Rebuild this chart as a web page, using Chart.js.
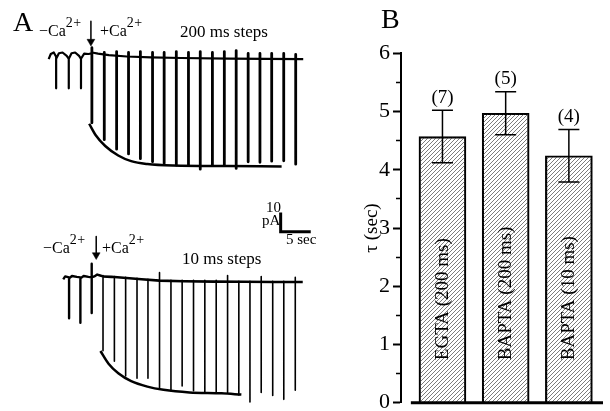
<!DOCTYPE html>
<html><head><meta charset="utf-8">
<script src="https://cdn.jsdelivr.net/npm/chart.js@4.4.0/dist/chart.umd.min.js"></script>
<style>
html,body{margin:0;padding:0;background:#fff;overflow:hidden;width:610px;height:411px;}
#wrap{position:relative;width:610px;height:411px;overflow:hidden;background:#fff;}
canvas{position:absolute;}
.t{position:absolute;font-family:"Liberation Serif","Times New Roman",serif;line-height:1;white-space:nowrap;color:#000;}
.s{position:relative;font-size:14px;top:-9px;letter-spacing:0.5px;}
</style></head>
<body><div id="wrap">
<canvas id="cA1" width="340" height="200" style="left:0;top:0"></canvas>
<canvas id="cA2" width="340" height="211" style="left:0;top:200px"></canvas>
<canvas id="cB" width="252" height="425" style="left:358px;top:0"></canvas>

<div class="t" style="left:13px;top:7.5px;font-size:28px">A</div>
<div class="t" style="left:39px;top:23px;font-size:16px">−Ca<span class="s">2+</span></div>
<div class="t" style="left:100px;top:23px;font-size:16px">+Ca<span class="s">2+</span></div>
<div class="t" style="left:180px;top:22.5px;font-size:17px">200 ms steps</div>

<div class="t" style="left:43px;top:239.6px;font-size:16px">−Ca<span class="s">2+</span></div>
<div class="t" style="left:102px;top:239.6px;font-size:16px">+Ca<span class="s">2+</span></div>
<div class="t" style="left:182px;top:249.8px;font-size:17px">10 ms steps</div>

<div class="t" style="left:266px;top:200.4px;font-size:15px">10</div>
<div class="t" style="left:262px;top:213.4px;font-size:15px">pA</div>
<div class="t" style="left:286px;top:232.4px;font-size:15px">5 sec</div>

<div class="t" style="left:381px;top:4.5px;font-size:28px">B</div>
</div>
<script>
// ---------- Panel A data (time in s, current in pA) ----------
// top trace (EGTA, 200 ms steps)
const topPreT = [0, 0.35, 0.85, 1.24, 1.24, 1.24, 1.7, 2.3, 3.0, 3.34, 3.34, 3.34, 3.8, 4.4, 5.05, 5.37, 5.37, 5.37, 5.9, 6.6, 7.18];
const topPreI = [-0.5, 2.2, 3, 0.8, -15.85, -0.3, 2.6, 3, 1.2, -0.3, -15.85, -0.3, 2.6, 3, 1.2, -0.3, -15.85, -0.3, 2.4, 2.2, 2.5];
const topBaseT = [7.18, 8.2, 10, 13, 17, 22, 30, 42.3];
const topBaseI = [3, 2.4, 1.6, 0.9, 0.4, 0.1, -0.2, -0.5];
const topStepT = [7.18, 9.24, 11.29, 13.27, 15.24, 17.26, 19.19, 21.21, 23.23, 25.19, 27.21, 29.19, 31.16, 33.15, 35.11, 37.06, 39.06, 41.05];
const topStepPeak = [-34, -42.9, -47.9, -50.4, -52.9, -54.5, -55.4, -56.2, -56.5, -58.4, -56.5, -56.5, -58, -54.5, -54.8, -54.2, -54, -55.8];
const topStepOver = [5.5, 3, 3.5, 3, 3.5, 3, 3, 3.5, 3, 3.5, 3, 3.5, 4, 2.5, 2.5, 2.5, 2.5, 2];
const topFitT = [6.73, 7.79, 9.40, 11.56, 13.71, 16.40, 20.69, 29.8, 38.71];
const topFitI = [-34.5, -40.4, -46.2, -51.2, -54.2, -55.7, -56.5, -56.8, -57];
const topArrowT = [7.02, 7.02];
const topArrowI = [19.5, 10];
const topArrowHead = [8.75];

// bottom trace (BAPTA, 10 ms steps)
const botPreT = [0, 0.32, 0.97, 0.97, 0.97, 1.45, 2.26, 2.85, 2.85, 2.85, 3.39, 4.19, 4.73, 4.73, 4.73, 4.73, 5.16, 5.65, 6.13, 6.61];
const botPreI = [0, 1.5, 1, -20.5, 0.5, 1.75, 1.25, 1, -22.85, 0.5, 1.75, 1.25, 1, -17.65, 8.15, 1, 1.5, 2.5, 2, 1.5];
const botBaseT = [6.61, 8, 10, 13, 16, 20, 25, 30, 35, 39.8];
const botBaseI = [1.5, 1.3, 0.8, 0, -0.7, -1, -1.2, -1.3, -1.4, -1.4];
const botStepT = [6.61, 8.50, 10.37, 12.26, 14.08, 16.0, 17.90, 19.76, 21.65, 23.53, 25.42, 27.31, 29.18, 31.03, 32.90, 34.81, 36.65, 38.56];
const botStepPeak = [-37.5, -43, -50.7, -51.9, -51.9, -56.9, -58.5, -56, -58.5, -59.4, -59.4, -59.4, -60.7, -64.4, -59.4, -61, -63, -58.2];
const botStepOver = [2, 1.5, 1, 0.5, 0, 3.5, -0.5, -0.5, -0.5, -0.5, -0.5, 2, -1, -1, 1.5, -1, -1, 1];
const botFitT = [6.18, 7.53, 9.15, 11.29, 13.98, 16.66, 20.97, 26.34, 29.6];
const botFitI = [-37.65, -44.35, -49.35, -53.5, -56.35, -58, -59.35, -59.85, -60.5];
const botArrowT = [5.48, 5.48];
const botArrowI = [22.5, 14];
const botArrowHead = [12.75];
// scale bar: 10 pA, 5 sec
const scaleBarT = [36.13, 36.13, 41.13];
const scaleBarI = [35, 25, 25];

// ---------- Panel B data ----------
const categories = ['EGTA (200 ms)', 'BAPTA (200 ms)', 'BAPTA (10 ms)'];
const tauMean = [4.57, 4.97, 4.24];
const tauSem = [0.45, 0.37, 0.45];
const nLabels = ['(7)', '(5)', '(4)'];
const tauTicks = [0, 1, 2, 3, 4, 5, 6];

Chart.defaults.font.family = '"Liberation Serif", "Times New Roman", serif';
Chart.defaults.color = '#000';

const pts = (T, I) => T.map((t, i) => ({x: t, y: I[i]}));
const segs = (T, top, bot) => T.flatMap((t, i) => [{x: t, y: top[i]}, {x: t, y: bot[i]}, {x: t, y: null}]);

function line(data, w, extra) {
  return Object.assign({type: 'line', data, borderColor: '#000', borderWidth: w, pointRadius: 0, fill: false, spanGaps: false, tension: 0, borderJoinStyle: 'round'}, extra || {});
}
function traceOpts(xmin, xmax, ymin, ymax) {
  return {
    responsive: false, animation: false, events: [],
    layout: {padding: 0},
    plugins: {legend: {display: false}, tooltip: {enabled: false}},
    scales: {
      x: {type: 'linear', min: xmin, max: xmax, display: false, offset: false},
      y: {type: 'linear', min: ymin, max: ymax, display: false}
    }
  };
}
function arrowHead(T, I) {
  return {type: 'line', data: [{x: T[0], y: I[0]}], showLine: false, pointRadius: 4.5, pointStyle: 'triangle', rotation: 180, pointBackgroundColor: '#000', pointBorderColor: '#000', pointBorderWidth: 0.5};
}

new Chart(document.getElementById('cA1'), {
  type: 'line',
  data: {datasets: [
    line(pts(topPreT, topPreI), 2.2),
    line(pts(topBaseT, topBaseI), 2.2),
    line(segs(topStepT, topStepOver, topStepPeak), 2.8),
    line(pts(topFitT, topFitI), 2.5, {cubicInterpolationMode: 'monotone'}),
    line(pts(topArrowT, topArrowI), 1.5),
    arrowHead([topArrowT[0]], topArrowHead)
  ]},
  options: traceOpts(-45 / 6.2, 295 / 6.2, -72, 28)
});

new Chart(document.getElementById('cA2'), {
  type: 'line',
  data: {datasets: [
    line(pts(botPreT, botPreI), 2.4),
    line(pts(botBaseT, botBaseI), 2.6),
    line(segs(botStepT, botStepOver, botStepPeak), 1.6),
    line(pts(botFitT, botFitI), 2.5, {cubicInterpolationMode: 'monotone'}),
    line(pts(botArrowT, botArrowI), 1.5),
    arrowHead([botArrowT[0]], botArrowHead),
    line(pts(scaleBarT, scaleBarI), 3, {borderJoinStyle: 'miter'})
  ]},
  options: traceOpts(-60 / 6.2, 280 / 6.2, -66.5, 39)
});

// ---------- Panel B ----------
const cB = document.getElementById('cB');
const hatch = (() => {
  const c = document.createElement('canvas');
  c.width = 4; c.height = 4;
  const g = c.getContext('2d');
  g.strokeStyle = '#444'; g.lineWidth = 0.7;
  g.beginPath();
  g.moveTo(0, 4); g.lineTo(4, 0);
  g.moveTo(-1, 1); g.lineTo(1, -1);
  g.moveTo(3, 5); g.lineTo(5, 3);
  g.stroke();
  return cB.getContext('2d').createPattern(c, 'repeat');
})();

const annot = {
  id: 'annot',
  afterDatasetsDraw(chart) {
    const {ctx, chartArea} = chart;
    const xs = chart.scales.x, ys = chart.scales.y;
    ctx.save();
    ctx.strokeStyle = '#000'; ctx.fillStyle = '#000';
    tauMean.forEach((m, i) => {
      const px = xs.getPixelForValue(i + 1);
      const hi = ys.getPixelForValue(m + tauSem[i]);
      const lo = ys.getPixelForValue(m - tauSem[i]);
      ctx.lineWidth = 1.5;
      ctx.beginPath();
      ctx.moveTo(px, hi); ctx.lineTo(px, lo);
      ctx.moveTo(px - 10.5, hi); ctx.lineTo(px + 10.5, hi);
      ctx.moveTo(px - 10.5, lo); ctx.lineTo(px + 10.5, lo);
      ctx.stroke();
      ctx.font = '19px "Liberation Serif"';
      ctx.textAlign = 'center'; ctx.textBaseline = 'middle';
      ctx.fillText(nLabels[i], px, hi - 12.7);
      ctx.save();
      ctx.translate(px + 0.5, ys.getPixelForValue(0.73));
      ctx.rotate(-Math.PI / 2);
      ctx.textAlign = 'left';
      ctx.fillText(categories[i], 0, 0);
      ctx.restore();
    });
    const y0 = ys.getPixelForValue(0);
    ctx.lineWidth = 3;
    ctx.beginPath();
    ctx.moveTo(xs.getPixelForValue(0.5), y0);
    ctx.lineTo(chartArea.right, y0);
    ctx.stroke();
    ctx.restore();
  }
};

new Chart(cB, {
  type: 'bar',
  data: {datasets: [{
    data: categories.map((c, i) => ({x: i + 1, y: tauMean[i]})),
    backgroundColor: hatch, borderColor: '#000', borderWidth: 1.5, barThickness: 47, borderSkipped: 'start'
  }]},
  options: {
    responsive: false, animation: false, events: [],
    layout: {padding: {left: 0, right: 7, top: 53.3, bottom: 22.3}},
    plugins: {legend: {display: false}, tooltip: {enabled: false}},
    scales: {
      x: {type: 'linear', min: 0.344, max: 3.54, display: false, offset: false, grid: {offset: false}},
      y: {
        type: 'linear', min: tauTicks[0], max: tauTicks[tauTicks.length - 1],
        afterFit(s) { s.width = 43; },
        border: {display: true, color: '#000', width: 2},
        grid: {
          drawOnChartArea: false, drawTicks: true, tickLength: 8, tickColor: '#000',
          tickWidth: c => (c.tick && c.tick.value % 1 === 0) ? 2 : 1.5,
          tickBorderDash: c => (c.tick && c.tick.value % 1 !== 0) ? [0, 3, 5, 0] : []
        },
        ticks: {
          stepSize: 0.5, autoSkip: false, padding: 3, color: '#000',
          font: {size: 22, lineHeight: 1},
          callback: v => tauTicks.includes(v) ? String(v) : ''
        },
        title: {display: true, text: 'τ (sec)', color: '#000', font: {size: 19}, padding: {top: 3, bottom: 0}}
      }
    }
  },
  plugins: [annot]
});
</script>
</body></html>
